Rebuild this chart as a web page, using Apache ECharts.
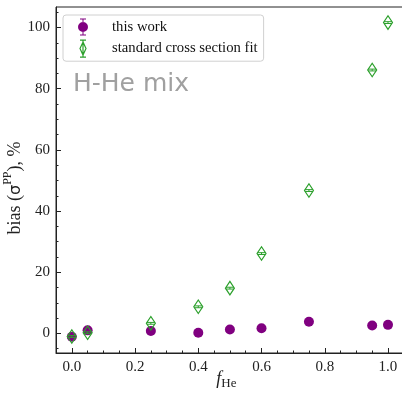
<!DOCTYPE html>
<html>
<head>
<meta charset="utf-8">
<script src="https://cdn.jsdelivr.net/npm/echarts@6/dist/echarts.min.js"></script>
<style>html,body{margin:0;padding:0;background:#fff;}#c{width:402px;height:393px;}</style>
</head>
<body>
<div id="c"></div>
<script>
// Data
const fHe = [0.0, 0.05, 0.25, 0.4, 0.5, 0.6, 0.75, 0.95, 1.0];
const thisWork = [-1.1, 1.0, 0.8, 0.2, 1.3, 1.7, 3.8, 2.6, 2.8];
const thisWorkErr = [0.5, 0.5, 0.5, 0.5, 0.5, 0.5, 0.5, 0.5, 0.5];
const stdFit = [-1.0, 0.2, 3.3, 8.7, 14.8, 26.1, 46.7, 86.1, 101.6];
const stdFitErr = [0.3, 0.3, 0.3, 0.3, 0.3, 0.3, 0.3, 0.3, 0.3];
const xMajorTicks = [0.0, 0.2, 0.4, 0.6, 0.8, 1.0];
const xMinorTicks = [0.0, 0.05, 0.1, 0.15, 0.2, 0.25, 0.3, 0.35, 0.4, 0.45, 0.5, 0.55, 0.6, 0.65, 0.7, 0.75, 0.8, 0.85, 0.9, 0.95, 1.0];
const yMajorTicks = [0, 20, 40, 60, 80, 100];
const yMinorTicks = [-5, 0, 5, 10, 15, 20, 25, 30, 35, 40, 45, 50, 55, 60, 65, 70, 75, 80, 85, 90, 95, 100, 105];

const PURPLE = '#800080';
const GREEN = '#2ca02c';
const SERIF = '"Liberation Serif", "DejaVu Serif", serif';

const ptsWork = fHe.map((x, i) => [x, thisWork[i], thisWorkErr[i]]);
const ptsStd = fHe.map((x, i) => [x, stdFit[i], stdFitErr[i]]);

function errRender(color) {
  return function (params, api) {
    const x = api.value(0), y = api.value(1), e = api.value(2);
    const lo = api.coord([x, y - e]);
    const hi = api.coord([x, y + e]);
    const hw = 4;
    const st = { stroke: color, lineWidth: 1 };
    return {
      type: 'group',
      children: [
        { type: 'line', shape: { x1: lo[0], y1: lo[1], x2: hi[0], y2: hi[1] }, style: st },
        { type: 'line', shape: { x1: lo[0] - hw, y1: lo[1], x2: lo[0] + hw, y2: lo[1] }, style: st },
        { type: 'line', shape: { x1: hi[0] - hw, y1: hi[1], x2: hi[0] + hw, y2: hi[1] }, style: st }
      ]
    };
  };
}

const purpleIcon = 'path://M2,0 L8,0 L8,1 L2,1 Z M4.5,0 L5.5,0 L5.5,17 L4.5,17 Z M2,16 L8,16 L8,17 L2,17 Z M0,8.5 A5,5 0 1,1 10,8.5 A5,5 0 1,1 0,8.5 Z';
const greenIcon = 'path://M5,0 L5,17 M2,0 L8,0 M2,17 L8,17 M5,2 L8,8.5 L5,15 L2,8.5 Z';
const diamond = 'path://M0,-7 L4.5,0 L0,7 L-4.5,0 Z';

const chart = echarts.init(document.getElementById('c'), null, { renderer: 'canvas' });
const axisLineStyle = { color: '#222', width: 1 };
chart.setOption({
  animation: false,
  backgroundColor: '#fff',
  title: {
    text: 'H-He mix', left: 73, top: 72, padding: 0,
    textStyle: { fontFamily: '"DejaVu Sans", sans-serif', fontSize: 25, fontWeight: 'normal', color: '#a0a0a0' }
  },
  grid: {
    left: 56, top: 7, width: 347.8, height: 346, outerBoundsMode: 'none', containLabel: false,
    show: true, borderColor: '#222', borderWidth: 1, backgroundColor: 'transparent'
  },
  legend: {
    orient: 'vertical', left: 63, top: 15,
    padding: [3.5, 6, 3.5, 15],
    itemWidth: 10, itemHeight: 17, itemGap: 4,
    backgroundColor: '#fff', borderColor: '#d0d0d0', borderWidth: 1, borderRadius: 3,
    textStyle: { fontFamily: SERIF, fontSize: 14.7, color: '#111', padding: [0, 0, 0, 19] },
    data: [
      { name: 'this work', icon: purpleIcon, itemStyle: { color: PURPLE, borderWidth: 0 } },
      { name: 'standard cross section fit', icon: greenIcon, itemStyle: { color: 'rgba(0,0,0,0)', borderColor: GREEN, borderWidth: 1.2 } }
    ]
  },
  xAxis: [
    {
      type: 'value', min: -0.05, max: 1.05, position: 'bottom',
      axisLine: { show: true, onZero: false, lineStyle: axisLineStyle },
      axisTick: { show: true, inside: true, length: 5, customValues: xMajorTicks, lineStyle: axisLineStyle },
      axisLabel: { customValues: xMajorTicks, formatter: v => v.toFixed(1), fontFamily: SERIF, fontSize: 15, color: '#222', margin: 7 },
      splitLine: { show: false },
      name: '{i|f}{s|He}', nameLocation: 'middle', nameGap: 17, nameMoveOverlap: false,
      nameTextStyle: {
        padding: [0, 7, 0, 0],
        rich: {
          i: { fontFamily: SERIF, fontStyle: 'italic', fontSize: 18, color: '#222', lineHeight: 20, verticalAlign: 'top' },
          s: { fontFamily: SERIF, fontSize: 13, color: '#222', lineHeight: 20, verticalAlign: 'bottom' }
        }
      }
    },
    {
      type: 'value', min: -0.05, max: 1.05, position: 'bottom',
      axisLine: { show: false, onZero: false },
      axisTick: { show: true, inside: true, length: 2.5, customValues: xMinorTicks, lineStyle: axisLineStyle },
      axisLabel: { show: false },
      splitLine: { show: false }
    }
  ],
  yAxis: [
    {
      type: 'value', min: -6.4, max: 106.7, position: 'left',
      axisLine: { show: true, onZero: false, lineStyle: axisLineStyle },
      axisTick: { show: true, inside: true, length: 5, customValues: yMajorTicks, lineStyle: axisLineStyle },
      axisLabel: { customValues: yMajorTicks, fontFamily: SERIF, fontSize: 15, color: '#222', margin: 6 },
      splitLine: { show: false },
      name: '{n|bias (}{g|σ}{p|PP}{n|), %}', nameLocation: 'middle', nameGap: 32, nameMoveOverlap: false,
      nameTextStyle: {
        padding: [0, 16, 0, 0],
        rich: {
          n: { fontFamily: SERIF, fontSize: 18, color: '#222', lineHeight: 22, verticalAlign: 'bottom' },
          g: { fontFamily: '"DejaVu Sans", sans-serif', fontSize: 16, color: '#222', lineHeight: 22, verticalAlign: 'bottom' },
          p: { fontFamily: SERIF, fontSize: 12, color: '#222', lineHeight: 22, verticalAlign: 'top' }
        }
      }
    },
    {
      type: 'value', min: -6.4, max: 106.7, position: 'left',
      axisLine: { show: false, onZero: false },
      axisTick: { show: true, inside: true, length: 2.5, customValues: yMinorTicks, lineStyle: axisLineStyle },
      axisLabel: { show: false },
      splitLine: { show: false }
    }
  ],
  series: [
    {
      name: 'err-this', type: 'custom', xAxisIndex: 0, yAxisIndex: 0, z: 2,
      renderItem: errRender(PURPLE), data: ptsWork, silent: true
    },
    {
      name: 'this work', type: 'scatter', xAxisIndex: 0, yAxisIndex: 0, z: 3,
      symbol: 'circle', symbolSize: 10,
      itemStyle: { color: PURPLE, opacity: 1 },
      data: ptsWork
    },
    {
      name: 'err-std', type: 'custom', xAxisIndex: 0, yAxisIndex: 0, z: 4,
      renderItem: errRender(GREEN), data: ptsStd, silent: true
    },
    {
      name: 'standard cross section fit', type: 'scatter', xAxisIndex: 0, yAxisIndex: 0, z: 5,
      symbol: diamond, symbolSize: [9, 13.5],
      itemStyle: { color: 'rgba(0,0,0,0)', borderColor: GREEN, borderWidth: 1.2, opacity: 1 },
      data: ptsStd
    }
  ]
});
</script>
</body>
</html>
